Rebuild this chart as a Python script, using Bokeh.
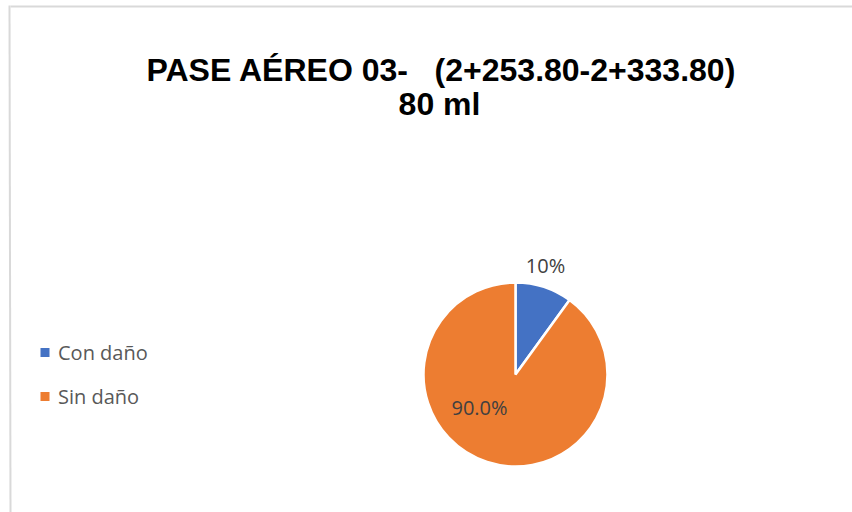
import numpy as np
from bokeh.plotting import figure
from bokeh.models import Range1d, ColumnDataSource
from bokeh.core.properties import value
from bokeh.embed import file_html
from bokeh.resources import INLINE

# ---- data ----
categories = ["Con daño", "Sin daño"]
values = [10, 90]
colors = ["#4472C4", "#ED7D31"]
pct_labels = ["10%", "90.0%"]
title_lines = ["PASE AÉREO 03-\u00a0\u00a0\u00a0(2+253.80-2+333.80)", "80 ml"]

# ---- layout (pixel space, y measured from top) ----
W, H = 852, 512
cx, cy, r = 515, 374, 92
label_pos = [(545, 265), (479, 407)]
legend_x, legend_y0, legend_dy = 44.5, 352, 44


def Y(y):
    return H - y


p = figure(width=W, height=H, output_backend="svg", toolbar_location=None,
           x_range=Range1d(0, W), y_range=Range1d(0, H), min_border=0)
p.axis.visible = False
p.grid.visible = False
p.outline_line_color = None
p.background_fill_color = "white"
p.border_fill_color = "white"

# chart border (top and left edges visible)
p.segment(x0=[10, 9], y0=[Y(6), Y(5)], x1=[W, 10], y1=[Y(6), 0],
          line_color="#d9d9d9", line_width=2)

# title
p.text(x=[441], y=[Y(69)], text=[title_lines[0]], text_font=value("Liberation Sans"),
       text_font_style="bold", text_font_size="32px", text_color="black",
       text_align="center", text_baseline="alphabetic")
p.text(x=[439], y=[Y(103)], text=[title_lines[1]], text_font=value("Liberation Sans"),
       text_font_style="bold", text_font_size="32px", text_color="black",
       text_align="center", text_baseline="alphabetic")

# pie
vals = np.array(values, dtype=float)
frac = vals / vals.sum()
cum = np.concatenate([[0], np.cumsum(frac)])
start = np.radians(90 - 360 * cum[:-1])
end = np.radians(90 - 360 * cum[1:])
src = ColumnDataSource(dict(cat=categories, start=start, end=end, color=colors))
p.wedge(x=cx, y=Y(cy), radius=r, start_angle="start", end_angle="end",
        direction="clock", fill_color="color", line_color="white", line_width=2.5,
        source=src)

# percentage labels
p.text(x=[lp[0] for lp in label_pos], y=[Y(lp[1]) for lp in label_pos], text=pct_labels,
       text_font=value("Open Sans"), text_font_size="20px", text_color="#404040",
       text_align="center", text_baseline="middle")

# legend
ly = [Y(legend_y0 + i * legend_dy) for i in range(len(categories))]
p.scatter(x=[legend_x] * len(categories), y=ly, marker="square", size=9,
          fill_color=colors, line_color=None)
p.text(x=[legend_x + 13] * len(categories), y=ly, text=categories,
       text_font=value("Open Sans"), text_font_size="20px", text_color="#595959",
       text_align="left", text_baseline="middle")

open("out.html", "w").write(file_html(p, INLINE))
